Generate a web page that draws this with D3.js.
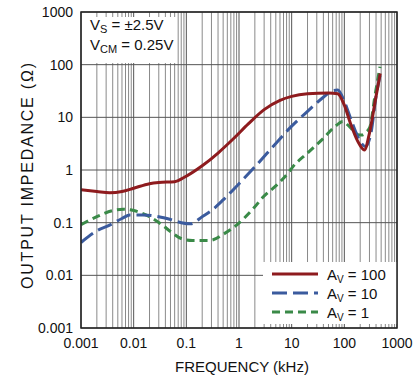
<!DOCTYPE html>
<html>
<head>
<meta charset="utf-8">
<script src="https://cdn.jsdelivr.net/npm/d3@7"></script>
<style>
  body { margin: 0; background: #fff; }
  svg { font-family: "Liberation Sans", Arial, sans-serif; }
</style>
</head>
<body>
<div class="chart"></div>
<script>
// frequency in kHz, impedance in ohms
const freqA100 = [0.001, 0.002, 0.0035, 0.006, 0.01, 0.02, 0.03, 0.06, 0.09, 0.2, 0.4, 0.8, 1.5, 3, 6, 10, 20, 50, 75, 100, 130, 180, 240, 300, 400, 480];
const zA100 = [0.42, 0.39, 0.37, 0.39, 0.45, 0.55, 0.58, 0.6, 0.72, 1.2, 2.1, 4.0, 7.5, 14, 21, 25, 28, 29, 28, 17, 7.8, 3.5, 2.4, 5, 25, 68];

const freqA10 = [0.001, 0.002, 0.0035, 0.006, 0.0085, 0.015, 0.03, 0.05, 0.08, 0.12, 0.2, 0.3, 0.5, 1, 2, 5, 10, 20, 40, 60, 75, 100, 140, 200, 250, 320, 400, 480];
const zA10 = [0.042, 0.07, 0.09, 0.12, 0.14, 0.14, 0.13, 0.115, 0.1, 0.095, 0.13, 0.17, 0.27, 0.55, 1.15, 3.2, 6.8, 13, 24, 32, 33, 20, 8, 3.5, 2.8, 5, 25, 65];

const freqA1 = [0.001, 0.002, 0.004, 0.0063, 0.01, 0.02, 0.035, 0.05, 0.08, 0.13, 0.28, 0.5, 0.9, 2, 2.9, 5, 8.5, 10.6, 20, 40, 70, 94, 128, 180, 213, 260, 307, 380, 475];
const zA1 = [0.092, 0.13, 0.17, 0.18, 0.17, 0.13, 0.09, 0.068, 0.05, 0.046, 0.046, 0.06, 0.09, 0.2, 0.31, 0.5, 0.87, 1.16, 2.1, 4, 7, 8.3, 6.5, 4.7, 4.6, 5.2, 6.6, 25, 91];

const xTicks = [0.001, 0.01, 0.1, 1, 10, 100, 1000];
const xTickLabels = ["0.001", "0.01", "0.1", "1", "10", "100", "1000"];
const yTicks = [0.001, 0.01, 0.1, 1, 10, 100, 1000];
const yTickLabels = ["0.001", "0.01", "0.1", "1", "10", "100", "1000"];

const series = [
  { gain: "100", freq: freqA100, z: zA100, color: "#8e1b1e", dash: null },
  { gain: "10", freq: freqA10, z: zA10, color: "#3b5b9e", dash: "15,6" },
  { gain: "1", freq: freqA1, z: zA1, color: "#3a8a48", dash: "8,5" }
];

const width = 418;
const height = 379;
const m = { left: 81, top: 12 };
const pw = 316, ph = 316;

const svg = d3.select(".chart").append("svg")
  .attr("width", width)
  .attr("height", height);

const x = d3.scaleLog().domain([0.001, 1000]).range([m.left, m.left + pw]);
const y = d3.scaleLog().domain([0.001, 1000]).range([m.top + ph, m.top]);

// minor grid
const minors = [];
for (let e = -3; e < 3; e++) {
  for (let k = 2; k <= 9; k++) minors.push(k * Math.pow(10, e));
}
const g = svg.append("g");
g.selectAll(".vminor").data(minors).enter().append("line")
  .attr("x1", d => x(d)).attr("x2", d => x(d))
  .attr("y1", m.top).attr("y2", m.top + ph)
  .attr("stroke", "#8a8a8a").attr("stroke-width", 1);
g.selectAll(".vmajor").data(xTicks).enter().append("line")
  .attr("x1", d => x(d)).attr("x2", d => x(d))
  .attr("y1", m.top).attr("y2", m.top + ph)
  .attr("stroke", "#555").attr("stroke-width", 1);
g.selectAll(".hmajor").data(yTicks).enter().append("line")
  .attr("y1", d => y(d)).attr("y2", d => y(d))
  .attr("x1", m.left).attr("x2", m.left + pw)
  .attr("stroke", "#555").attr("stroke-width", 1);

// note box top left
svg.append("rect").attr("x", m.left + 1).attr("y", m.top + 5)
  .attr("width", 94).attr("height", 46).attr("fill", "#fff");
const note = svg.append("g").attr("font-size", 15).attr("fill", "#111");
const t1 = note.append("text").attr("x", 90).attr("y", 30);
t1.append("tspan").text("V");
t1.append("tspan").attr("font-size", 11).attr("dy", 3).text("S");
t1.append("tspan").attr("dy", -3).text(" = ±2.5V");
const t2 = note.append("text").attr("x", 90).attr("y", 50);
t2.append("tspan").text("V");
t2.append("tspan").attr("font-size", 11).attr("dy", 3).text("CM");
t2.append("tspan").attr("dy", -3).text(" = 0.25V");

// curves
const line = d3.line()
  .x(d => x(d[0]))
  .y(d => y(d[1]))
  .curve(d3.curveMonotoneX);

svg.append("clipPath").attr("id", "plot")
  .append("rect").attr("x", m.left).attr("y", m.top).attr("width", pw).attr("height", ph);

svg.append("g").attr("clip-path", "url(#plot)")
  .selectAll("path").data(series.slice().reverse()).enter().append("path")
  .attr("d", s => line(s.freq.map((f, i) => [f, s.z[i]])))
  .attr("fill", "none")
  .attr("stroke", s => s.color)
  .attr("stroke-width", 3)
  .attr("stroke-dasharray", s => s.dash);

// legend
svg.append("rect").attr("x", 263).attr("y", 262)
  .attr("width", m.left + pw - 263).attr("height", 62).attr("fill", "#fff");
const leg = svg.append("g").selectAll("g").data(series).enter().append("g")
  .attr("transform", (d, i) => `translate(0,${274 + i * 19})`);
leg.append("line").attr("x1", 272).attr("x2", 318)
  .attr("stroke", d => d.color).attr("stroke-width", 3)
  .attr("stroke-dasharray", d => d.dash);
const lt = leg.append("text").attr("x", 327).attr("y", 5.5)
  .attr("font-size", 15).attr("fill", "#111");
lt.append("tspan").text("A");
lt.append("tspan").attr("font-size", 10).attr("dy", 3).text("V");
lt.append("tspan").attr("dy", -3).text(d => " = " + d.gain);

// frame
svg.append("rect").attr("x", m.left).attr("y", m.top)
  .attr("width", pw).attr("height", ph)
  .attr("fill", "none").attr("stroke", "#222").attr("stroke-width", 1.5);

// tick labels
svg.append("g").selectAll("text").data(xTicks).enter().append("text")
  .attr("x", d => x(d)).attr("y", 348)
  .attr("text-anchor", "middle").attr("font-size", 14).attr("fill", "#111")
  .text((d, i) => xTickLabels[i]);
svg.append("g").selectAll("text").data(yTicks).enter().append("text")
  .attr("x", 73).attr("y", d => y(d) + 5)
  .attr("text-anchor", "end").attr("font-size", 14).attr("fill", "#111")
  .text((d, i) => yTickLabels[i]);

// axis titles
svg.append("text").attr("x", 242).attr("y", 372)
  .attr("text-anchor", "middle").attr("font-size", 15).attr("fill", "#111")
  .text("FREQUENCY (kHz)");
svg.append("text")
  .attr("transform", "translate(33,176) rotate(-90)")
  .attr("text-anchor", "middle").attr("font-size", 16).attr("fill", "#111")
  .attr("textLength", 226).attr("lengthAdjust", "spacing")
  .text("OUTPUT IMPEDANCE (Ω)");
</script>
</body>
</html>
